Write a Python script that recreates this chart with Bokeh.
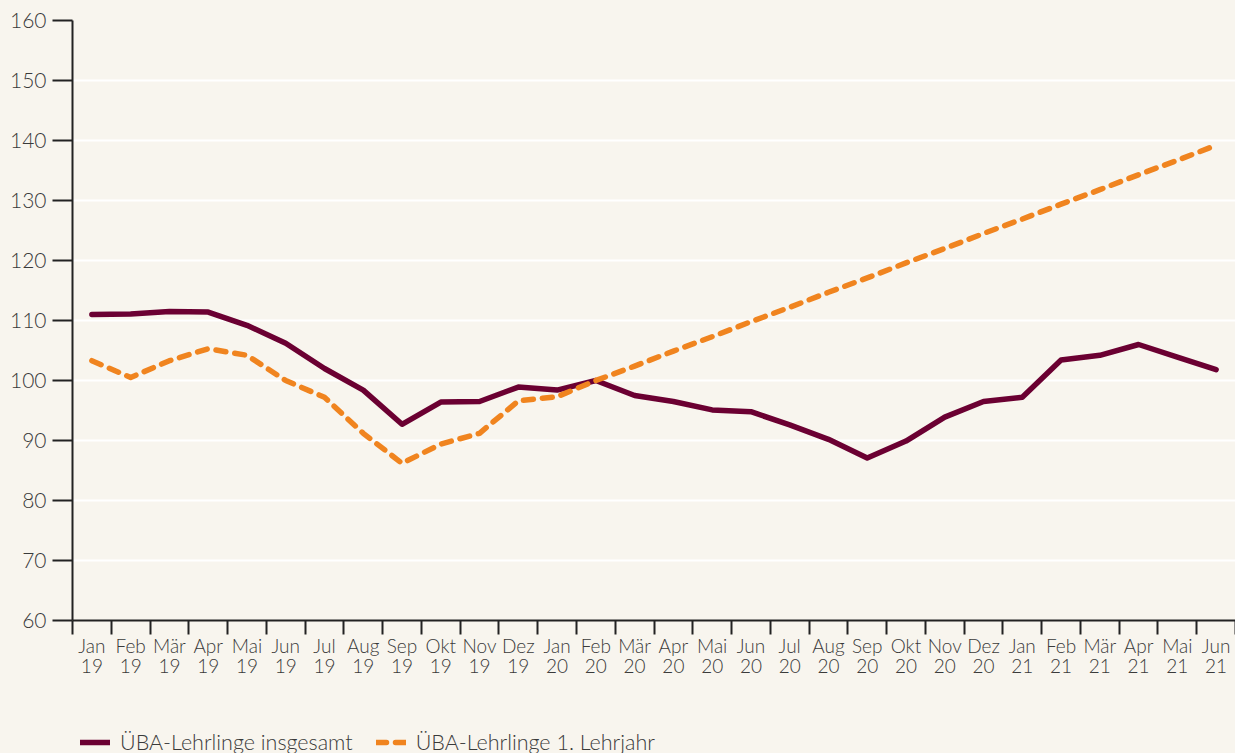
from bokeh.plotting import figure
from bokeh.layouts import column
from bokeh.models import Range1d, FixedTicker, Legend, LegendItem, ColumnDataSource
from bokeh.embed import file_html
from bokeh.resources import INLINE

months = ["Jan", "Feb", "Mär", "Apr", "Mai", "Jun", "Jul", "Aug", "Sep", "Okt", "Nov", "Dez",
          "Jan", "Feb", "Mär", "Apr", "Mai", "Jun", "Jul", "Aug", "Sep", "Okt", "Nov", "Dez",
          "Jan", "Feb", "Mär", "Apr", "Mai", "Jun"]
years = ["19"] * 12 + ["20"] * 12 + ["21"] * 6

insgesamt = [111.0, 111.1, 111.5, 111.4, 109.2, 106.2, 102.0, 98.4, 92.7, 96.4, 96.5, 98.9,
             98.4, 100.0, 97.5, 96.5, 95.1, 94.8, 92.6, 90.2, 87.1, 89.9, 93.9, 96.5,
             97.2, 103.4, 104.2, 106.0, 103.9, 101.8]
lehrjahr1 = [103.3, 100.5, 103.3, 105.3, 104.2, 100.0, 97.2, 91.2, 86.2, 89.4, 91.2, 96.6,
             97.3, 100.0, 102.4, 104.9, 107.3, 109.8, 112.2, 114.7, 117.1, 119.6, 122.0, 124.5,
             126.9, 129.4, 131.8, 134.3, 136.7, 139.2]
series_labels = ["ÜBA-Lehrlinge insgesamt", "ÜBA-Lehrlinge 1. Lehrjahr"]

y_ticks = list(range(60, 161, 10))

FONT = "Lato Light, Lato"
BG = "#f8f5ee"
TXT = "#3a3a3a"
C1 = "#6b0032"
C2 = "#f0841f"
DASH = "10 9"

xs = [i + 0.5 for i in range(len(months))]
src = ColumnDataSource(dict(x=xs, a=insgesamt, b=lehrjahr1))

p = figure(width=1235, height=723, output_backend="svg", toolbar_location=None,
           x_range=Range1d(0, len(months)), y_range=Range1d(60, 160),
           background_fill_color=BG, border_fill_color=BG, outline_line_color=None,
           min_border_left=72, min_border_right=0, min_border_top=20, min_border_bottom=103)

p.line("x", "a", source=src, line_color=C1, line_width=5.5, line_join="round", line_cap="round")
p.line("x", "b", source=src, line_color=C2, line_width=5.5, line_dash=DASH,
       line_join="round", line_cap="round")

p.xgrid.grid_line_color = None
p.ygrid.grid_line_color = "white"
p.ygrid.grid_line_width = 2
p.ygrid.ticker = FixedTicker(ticks=y_ticks)

ya = p.yaxis[0]
ya.ticker = FixedTicker(ticks=y_ticks)
ya.axis_line_color = "#222222"
ya.axis_line_width = 2
ya.major_tick_line_color = "#222222"
ya.major_tick_line_width = 2
ya.major_tick_out = 20
ya.major_tick_in = 0
ya.minor_tick_line_color = None
ya.major_label_text_font = FONT
ya.major_label_text_font_size = "21px"
ya.major_label_text_color = TXT
ya.major_label_standoff = 6

xa = p.xaxis[0]
xa.ticker = FixedTicker(ticks=xs, minor_ticks=list(range(len(months) + 1)))
xa.major_label_overrides = {x: f"{m}\n{y}" for x, m, y in zip(xs, months, years)}
xa.axis_line_color = "#222222"
xa.axis_line_width = 2
xa.major_tick_line_color = None
xa.major_tick_out = 0
xa.major_tick_in = 0
xa.minor_tick_line_color = "#222222"
xa.minor_tick_line_width = 2
xa.minor_tick_out = 14
xa.minor_tick_in = 0
xa.major_label_text_font = FONT
xa.major_label_text_font_size = "19px"
xa.major_label_text_color = TXT
xa.major_label_text_line_height = 0.9
xa.major_label_standoff = -1

# legend strip
nan = float("nan")
lg = figure(width=1235, height=30, output_backend="svg", toolbar_location=None,
            x_range=Range1d(0, 1), y_range=Range1d(0, 1),
            background_fill_color=None, border_fill_color=BG, outline_line_color=None,
            min_border=0, min_border_left=72, x_axis_type=None, y_axis_type=None)
lg.grid.grid_line_color = None
l1 = lg.line(x=[nan, nan], y=[nan, nan], line_color=C1, line_width=5.5, line_cap="round")
l2 = lg.line(x=[nan, nan], y=[nan, nan], line_color=C2, line_width=5.5, line_dash=DASH, line_cap="round")
legend = Legend(items=[LegendItem(label=series_labels[0], renderers=[l1]),
                       LegendItem(label=series_labels[1], renderers=[l2])],
                orientation="horizontal", location=(8, -2),
                background_fill_alpha=0, border_line_color=None,
                label_text_font=FONT, label_text_font_size="21.5px", label_text_color=TXT,
                glyph_width=30, glyph_height=20, label_standoff=10, spacing=23,
                padding=0, margin=0)
lg.add_layout(legend, "center")

layout = column(p, lg, spacing=0, styles={"background-color": BG})
open("out.html", "w").write(file_html(layout, INLINE))
